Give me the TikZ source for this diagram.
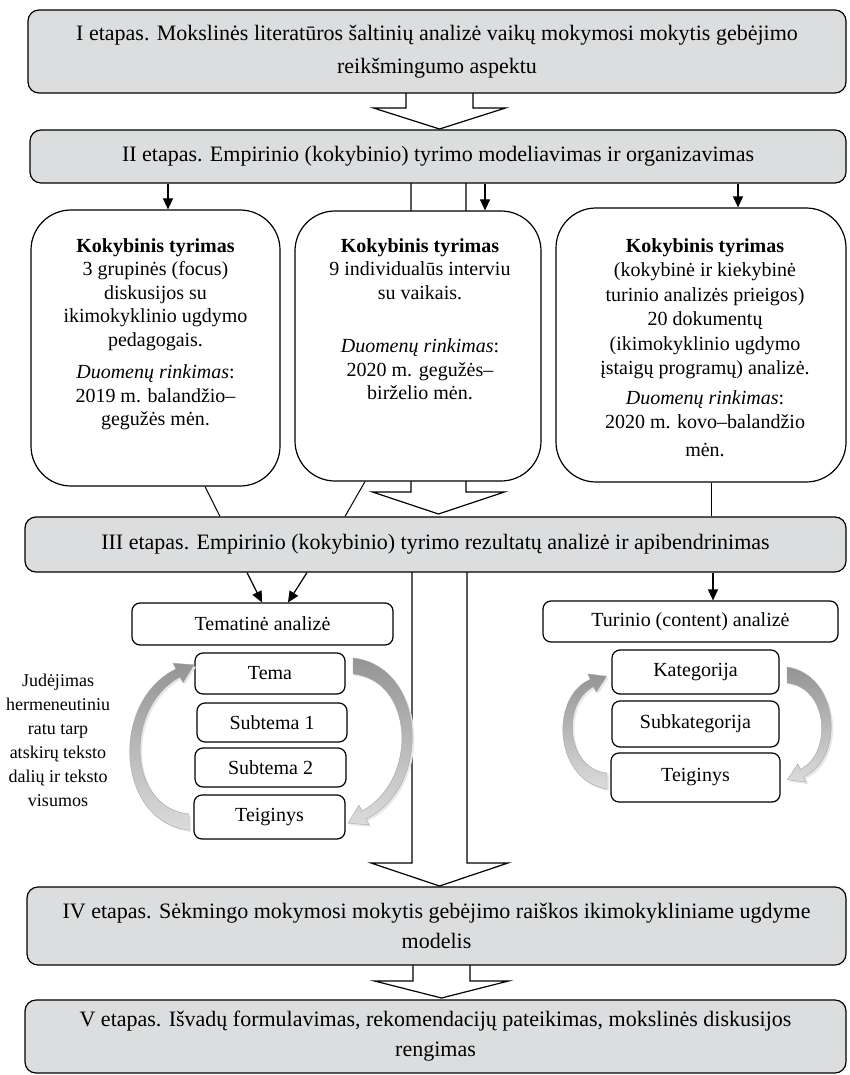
\documentclass[tikz,border=0pt]{standalone}
\usepackage{fontspec}
\setmainfont{Liberation Serif}
\usetikzlibrary{arrows.meta,calc}
\definecolor{stagegray}{RGB}{220,221,222}
\newcommand\blockarrow[6]{%
  \draw[blockarr] (#1-#5,#2) -- (#1-#5,#3) -- (#1-#6,#3) -- (#1,#4) -- (#1+#6,#3) -- (#1+#5,#3) -- (#1+#5,#2);}
\newcommand\arcLshape[1]{%
  \path[#1] (189,830) .. controls (116,822) and (109,702) .. (175.9,669) -- (173,663.2) -- (194,664.8) -- (183,682.8) -- (180.1,677) .. controls (123,708) and (128,808) .. (189,814) -- cycle;}
\newcommand\arcRshape[1]{%
  \path[#1] (607,789) .. controls (554,781) and (549,697) .. (590.3,679.4) -- (587.8,673.9) -- (606.6,676.3) -- (596.2,692.1) -- (593.7,686.6) .. controls (561,703) and (566,769) .. (607,773) -- cycle;}
\begin{document}
\begin{tikzpicture}[x=1pt,y=-1pt,
  stage/.style={draw, line width=1.2pt, fill=stagegray, rounded corners=11pt, inner sep=0pt, align=center, font=\fontsize{22}{30}\selectfont},
  study/.style={draw, line width=1.2pt, fill=white, rounded corners=40pt, inner sep=0pt},
  small/.style={draw, line width=1.2pt, fill=white, rounded corners=8pt, inner sep=0pt, font=\fontsize{20}{24}\selectfont},
  btxt/.style={anchor=north, inner sep=0pt, align=center, font=\fontsize{20}{23.5}\selectfont},
  arr/.style={line width=1.2pt, -{Triangle[length=11pt,width=10pt]}},
  conn/.style={line width=1pt},
  blockarr/.style={draw, line width=1.2pt, fill=white, line join=miter},
  arcshade/.style={bottom color=black!14, top color=black!42, draw=black!35, line width=0.4pt},
  arcshadow/.style={fill=black!9},
]
\useasboundingbox (0,0) rectangle (849,1075);

% block arrows (drawn first, boxes cover their open ends)
\blockarrow{439.5}{93}{108}{129}{33.5}{66}
\blockarrow{438.5}{183}{492}{514}{27.5}{66}
\blockarrow{439.5}{572}{863}{886}{27.5}{68.5}
\blockarrow{441.5}{965}{981}{998}{28.5}{67}

% stage boxes
\node[stage, font=\fontsize{22}{33}\selectfont, minimum width=818pt, minimum height=83pt] (I) at (437,51.5)
  {I etapas. Mokslinės literatūros šaltinių analizė vaikų mokymosi mokytis gebėjimo\\reikšmingumo aspektu};
\node[stage, minimum width=816pt, minimum height=53pt] (II) at (438,156.5)
  {II etapas. Empirinio (kokybinio) tyrimo modeliavimas ir organizavimas};
\node[stage, minimum width=821pt, minimum height=55pt] (III) at (435.5,544.5)
  {III etapas. Empirinio (kokybinio) tyrimo rezultatų analizė ir apibendrinimas};
\node[stage, minimum width=819pt, minimum height=78pt] (IV) at (436.5,926)
  {IV etapas. Sėkmingo mokymosi mokytis gebėjimo raiškos ikimokykliniame ugdyme\\modelis};
\node[stage, minimum width=821pt, minimum height=73pt] (V) at (435.5,1036.5)
  {V etapas. Išvadų formulavimas, rekomendacijų pateikimas, mokslinės diskusijos\\rengimas};

% study boxes
\node[study, minimum width=249pt, minimum height=276pt] (L) at (155.5,348) {};
\node[study, minimum width=246pt, minimum height=270pt] (M) at (418,346) {};
\node[study, minimum width=290pt, minimum height=274pt] (R) at (701,345) {};

\node[btxt] (Ltxt) at (155.5,238) {\textbf{Kokybinis tyrimas}\\
  3 grupinės (focus)\\ diskusijos su\\ ikimokyklinio ugdymo\\ pedagogais.\\[9pt]
  \textit{Duomenų rinkimas}:\\ 2019 m. balandžio–\\ gegužės mėn.};
\node[btxt] (Mtxt) at (420,238) {\textbf{Kokybinis tyrimas}\\
  9 individualūs interviu\\ su vaikais.\\[30pt]
  \textit{Duomenų rinkimas}:\\ 2020 m. gegužės–\\ birželio mėn.};
\node[btxt, font=\fontsize{20}{24.5}\selectfont] (Rtxt) at (705,238) {\textbf{Kokybinis tyrimas}\\
  (kokybinė ir kiekybinė\\ turinio analizės prieigos)\\ 20 dokumentų\\ (ikimokyklinio ugdymo\\ įstaigų programų) analizė.\\[5pt]
  \textit{Duomenų rinkimas}:\\ 2020 m. kovo–balandžio\\[3pt] mėn.};

% small boxes
\node[small, minimum width=261pt, minimum height=42pt] (TA) at (262.5,624) {Tematinė analizė};
\node[small, minimum width=295pt, minimum height=41pt] (CA) at (690.5,621.5) {Turinio (content) analizė};
\node[small, minimum width=150pt, minimum height=41pt] (Tema) at (270,673.5) {Tema};
\node[small, minimum width=150pt, minimum height=39pt] (ST1) at (272,722.5) {Subtema 1};
\node[small, minimum width=151pt, minimum height=39pt] (ST2) at (270.5,767.5) {Subtema 2};
\node[small, minimum width=151pt, minimum height=44pt] (TgL) at (269.5,817) {Teiginys};
\node[small, minimum width=167pt, minimum height=44pt] (Kat) at (695.5,672) {Kategorija};
\node[small, minimum width=167pt, minimum height=46pt] (Sub) at (695.5,724) {Subkategorija};
\node[small, minimum width=169pt, minimum height=49pt] (TgR) at (695.5,777.5) {Teiginys};

\node[inner sep=0pt, align=center, font=\fontsize{18}{24}\selectfont] (note) at (58,740)
  {Judėjimas\\ hermeneutiniu\\ ratu tarp\\ atskirų teksto\\ dalių ir teksto\\ visumos};

% curved grey arrows
\arcLshape{arcshadow, shift={(2,2)}}
\arcLshape{arcshade}
\begin{scope}[rotate around={180:(271,744)}]
  \arcLshape{arcshadow, shift={(-2,-2)}}
  \arcLshape{arcshade}
\end{scope}
\arcRshape{arcshadow, shift={(2,2)}}
\arcRshape{arcshade}
\begin{scope}[rotate around={180:(697,728)}]
  \arcRshape{arcshadow, shift={(-2,-2)}}
  \arcRshape{arcshade}
\end{scope}

% x positions for connectors
\coordinate (xa) at (168,0);
\coordinate (xb) at (485,0);
\coordinate (xc) at (738,0);
\coordinate (xd1) at (205,0);
\coordinate (xd2) at (220,0);
\coordinate (xe1) at (365,0);
\coordinate (xe2) at (345,0);
\coordinate (xf) at (711,0);
\coordinate (xg1) at (247,0);
\coordinate (xg2) at (262,0);
\coordinate (xh1) at (307,0);
\coordinate (xh2) at (288,0);
\coordinate (xk) at (713,0);

\draw[arr] (II.south -| xa) -- (L.north -| xa);
\draw[arr] (II.south -| xb) -- (M.north -| xb);
\draw[arr] (II.south -| xc) -- (R.north -| xc);

\draw[conn] (L.south -| xd1) -- (III.north -| xd2);
\draw[conn] (M.south -| xe1) -- (III.north -| xe2);
\draw[conn] (R.south -| xf) -- (III.north -| xf);

\draw[arr] (III.south -| xg1) -- (TA.north -| xg2);
\draw[arr] (III.south -| xh1) -- (TA.north -| xh2);
\draw[arr] (III.south -| xk) -- (CA.north -| xk);
\end{tikzpicture}
\end{document}
